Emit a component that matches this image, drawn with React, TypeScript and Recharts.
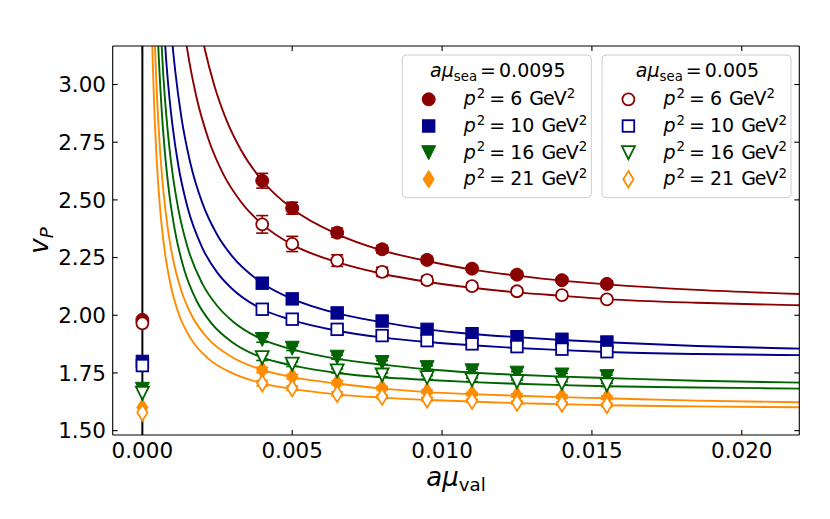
import React from 'react';
import {
  ComposedChart,
  Line,
  Scatter,
  XAxis,
  YAxis,
  ReferenceLine,
  ErrorBar,
  Legend,
  Label,
} from 'recharts';

// ---------------- data ----------------
const A_MU_VAL = [0.004, 0.005, 0.0065, 0.008, 0.0095, 0.011, 0.0125, 0.014, 0.0155];

// a mu_sea = 0.0095 (filled markers)
const P6_SEA0095 = [2.583, 2.464, 2.358, 2.286, 2.24, 2.202, 2.176, 2.152, 2.136];
const P10_SEA0095 = [2.139, 2.071, 2.01, 1.975, 1.939, 1.92, 1.907, 1.896, 1.884];
const P16_SEA0095 = [1.895, 1.857, 1.818, 1.795, 1.773, 1.759, 1.749, 1.741, 1.734];
const P21_SEA0095 = [1.763, 1.734, 1.708, 1.684, 1.669, 1.659, 1.653, 1.647, 1.643];
// a mu_sea = 0.005 (open markers)
const P6_SEA005 = [2.394, 2.309, 2.237, 2.188, 2.152, 2.126, 2.104, 2.087, 2.069];
const P10_SEA005 = [2.026, 1.983, 1.939, 1.912, 1.89, 1.876, 1.864, 1.853, 1.842];
const P16_SEA005 = [1.816, 1.788, 1.759, 1.741, 1.73, 1.72, 1.712, 1.705, 1.698];
const P21_SEA005 = [1.705, 1.684, 1.659, 1.647, 1.636, 1.629, 1.621, 1.617, 1.611];

// error bars
const ERR_P6_SEA0095 = [0.032, 0.026, 0.02, 0.017, 0.015, 0.013, 0.013, 0.012, 0.012];
const ERR_P6_SEA005 = [0.038, 0.033, 0.025, 0.02, 0.017, 0.015, 0.014, 0.013, 0.013];
const ERR_SMALL = [0.012, 0.01, 0.009, 0.008, 0.008, 0.007, 0.007, 0.007, 0.007];

// chiral-limit values at a mu_val = 0 (p^2 = 6, 10, 16, 21)
const CHIRAL_SEA0095 = [1.98, 1.8, 1.679, 1.6];
const CHIRAL_SEA005 = [1.965, 1.782, 1.662, 1.578];

// fit curves: [a mu_val, v_P]
const FIT_P6_SEA0095 = [
  [0.0019, 3.269], [0.0021, 3.144], [0.0024, 2.996], [0.0028, 2.848], [0.0033, 2.714],
  [0.004, 2.583], [0.005, 2.462], [0.0065, 2.352], [0.008, 2.281], [0.0095, 2.235],
  [0.011, 2.198], [0.0125, 2.172], [0.014, 2.15], [0.0155, 2.134], [0.0185, 2.11], [0.022, 2.092],
];
const FIT_P6_SEA005 = [
  [0.0013, 3.337], [0.0015, 3.15], [0.0018, 2.948], [0.0022, 2.765], [0.0027, 2.612],
  [0.0033, 2.49], [0.004, 2.394], [0.005, 2.306], [0.0065, 2.23], [0.008, 2.18],
  [0.0095, 2.145], [0.011, 2.119], [0.0125, 2.099], [0.014, 2.084], [0.0155, 2.07],
  [0.0185, 2.054], [0.022, 2.043],
];
const FIT_P10_SEA0095 = [
  [0.0009, 3.335], [0.001, 3.181], [0.0011, 3.055], [0.0013, 2.86], [0.0016, 2.66],
  [0.002, 2.487], [0.0025, 2.348], [0.003, 2.255], [0.004, 2.139], [0.005, 2.071],
  [0.0065, 2.008], [0.008, 1.97], [0.0095, 1.939], [0.011, 1.919], [0.0125, 1.905],
  [0.014, 1.893], [0.0155, 1.883], [0.0185, 1.867], [0.022, 1.855],
];
const FIT_P10_SEA005 = [
  [0.0007, 3.288], [0.0008, 3.096], [0.0009, 2.947], [0.001, 2.828], [0.0012, 2.649],
  [0.0015, 2.471], [0.002, 2.292], [0.0025, 2.185], [0.003, 2.114], [0.004, 2.026],
  [0.005, 1.979], [0.0065, 1.933], [0.008, 1.904], [0.0095, 1.884], [0.011, 1.87],
  [0.0125, 1.858], [0.014, 1.849], [0.0155, 1.841], [0.0185, 1.832], [0.022, 1.827],
];
const FIT_P16_SEA0095 = [
  [0.0006, 3.268], [0.0007, 3.037], [0.0008, 2.864], [0.0009, 2.729], [0.001, 2.621],
  [0.0012, 2.46], [0.0015, 2.298], [0.002, 2.137], [0.0025, 2.04], [0.003, 1.975],
  [0.004, 1.895], [0.005, 1.852], [0.0065, 1.811], [0.008, 1.786], [0.0095, 1.766],
  [0.011, 1.752], [0.0125, 1.742], [0.014, 1.734], [0.0155, 1.728], [0.0185, 1.716], [0.022, 1.708],
];
const FIT_P16_SEA005 = [
  [0.0005, 3.261], [0.00055, 3.11], [0.00065, 2.878], [0.00075, 2.708], [0.0009, 2.524],
  [0.0011, 2.357], [0.0014, 2.196], [0.0018, 2.065], [0.0023, 1.966], [0.003, 1.883],
  [0.004, 1.816], [0.005, 1.783], [0.0065, 1.75], [0.008, 1.731], [0.0095, 1.72],
  [0.011, 1.71], [0.0125, 1.703], [0.014, 1.697], [0.0155, 1.692], [0.0185, 1.687], [0.022, 1.682],
];
const FIT_P21_SEA0095 = [
  [0.0004, 3.245], [0.00045, 3.062], [0.0005, 2.916], [0.0006, 2.697], [0.0007, 2.54],
  [0.00085, 2.374], [0.001, 2.258], [0.0013, 2.106], [0.0017, 1.986], [0.0022, 1.898],
  [0.003, 1.818], [0.004, 1.763], [0.005, 1.732], [0.0065, 1.704], [0.008, 1.682],
  [0.0095, 1.667], [0.011, 1.658], [0.0125, 1.651], [0.014, 1.645], [0.0155, 1.64],
  [0.0185, 1.63], [0.022, 1.623],
];
const FIT_P21_SEA005 = [
  [0.0003, 3.327], [0.00035, 3.076], [0.0004, 2.888], [0.00048, 2.669], [0.0006, 2.45],
  [0.00075, 2.274], [0.00095, 2.127], [0.0012, 2.011], [0.0016, 1.902], [0.0022, 1.812],
  [0.003, 1.749], [0.004, 1.705], [0.005, 1.681], [0.0065, 1.657], [0.008, 1.643],
  [0.0095, 1.633], [0.011, 1.626], [0.0125, 1.619], [0.014, 1.615], [0.0155, 1.61],
  [0.0185, 1.605], [0.022, 1.601],
];

const P2_LABELS = ['6', '10', '16', '21'];
const SEA_LABELS = ['0.0095', '0.005'];
const X_TICKS = [0, 0.005, 0.01, 0.015, 0.02];
const Y_TICKS = [1.5, 1.75, 2.0, 2.25, 2.5, 2.75, 3.0];
const X_DOMAIN = [-0.00099, 0.02192];
const Y_DOMAIN = [1.481, 3.167];

// ---------------- styling / layout ----------------
const W = 830;
const H = 519;
const PLOT_LEFT = 112.7;
const PLOT_RIGHT = 799.3;
const PLOT_TOP = 46;
const PLOT_BOTTOM = 435;
const FONT = '"DejaVu Sans", Verdana, sans-serif';
const RED = '#8b0000';
const BLUE = '#00008b';
const GREEN = '#006400';
const ORANGE = '#ff8c00';
const COLORS = [RED, BLUE, GREEN, ORANGE];
const KINDS = ['circle', 'square', 'tri', 'diamond'];
const TICK_LEN = 5;

const toPoints = (ys: number[], errs?: number[]) =>
  A_MU_VAL.map((x, i) => ({ x, y: ys[i], err: errs ? errs[i] : 0 }));
const toCurve = (pairs: number[][]) => pairs.map(([x, y]) => ({ x, y }));

const SERIES_SEA0095 = [P6_SEA0095, P10_SEA0095, P16_SEA0095, P21_SEA0095];
const SERIES_SEA005 = [P6_SEA005, P10_SEA005, P16_SEA005, P21_SEA005];
const ERRS_SEA0095 = [ERR_P6_SEA0095, ERR_SMALL, ERR_SMALL, ERR_SMALL];
const ERRS_SEA005 = [ERR_P6_SEA005, ERR_SMALL, ERR_SMALL, ERR_SMALL];
const FITS_SEA0095 = [FIT_P6_SEA0095, FIT_P10_SEA0095, FIT_P16_SEA0095, FIT_P21_SEA0095];
const FITS_SEA005 = [FIT_P6_SEA005, FIT_P10_SEA005, FIT_P16_SEA005, FIT_P21_SEA005];

function markerEl(kind: string, cx: number, cy: number, color: string, filled: boolean, key?: string) {
  const fill = filled ? color : '#ffffff';
  const sw = filled ? 1 : 1.8;
  if (kind === 'circle') {
    const r = filled ? 6.5 : 6.0;
    return <circle key={key} cx={cx} cy={cy} r={r} fill={fill} stroke={color} strokeWidth={sw} />;
  }
  if (kind === 'square') {
    const h = filled ? 6.2 : 5.8;
    return (
      <rect key={key} x={cx - h} y={cy - h} width={2 * h} height={2 * h} fill={fill} stroke={color} strokeWidth={sw} />
    );
  }
  if (kind === 'tri') {
    const h = filled ? 7.0 : 6.5;
    const pts = `${cx - h},${cy - h} ${cx + h},${cy - h} ${cx},${cy + h}`;
    return <polygon key={key} points={pts} fill={fill} stroke={color} strokeWidth={sw} strokeLinejoin="miter" />;
  }
  const hh = filled ? 8.8 : 8.2;
  const hw = filled ? 5.6 : 5.1;
  const pts = `${cx},${cy - hh} ${cx + hw},${cy} ${cx},${cy + hh} ${cx - hw},${cy}`;
  return <polygon key={key} points={pts} fill={fill} stroke={color} strokeWidth={sw} />;
}

const makeShape = (kind: string, color: string, filled: boolean) => (props: any) => {
  const { cx, cy } = props;
  if (cx == null || cy == null || Number.isNaN(cx) || Number.isNaN(cy)) return <g />;
  return markerEl(kind, cx, cy, color, filled);
};

const XTickBottom = (props: any) => {
  const { x, payload } = props;
  return (
    <g>
      <line x1={x} x2={x} y1={PLOT_BOTTOM} y2={PLOT_BOTTOM - TICK_LEN} stroke="#000" strokeWidth={1.1} />
      <text x={x} y={458} textAnchor="middle" fontFamily={FONT} fontSize={21.5} fill="#000">
        {Number(payload.value).toFixed(3)}
      </text>
    </g>
  );
};
const XTickTop = (props: any) => {
  const { x } = props;
  return <line x1={x} x2={x} y1={PLOT_TOP} y2={PLOT_TOP + TICK_LEN} stroke="#000" strokeWidth={1.1} />;
};
const YTickLeft = (props: any) => {
  const { y, payload } = props;
  return (
    <g>
      <line x1={PLOT_LEFT} x2={PLOT_LEFT + TICK_LEN} y1={y} y2={y} stroke="#000" strokeWidth={1.1} />
      <text x={106} y={y + 7.7} textAnchor="end" fontFamily={FONT} fontSize={21.5} fill="#000">
        {Number(payload.value).toFixed(2)}
      </text>
    </g>
  );
};
const YTickRight = (props: any) => {
  const { y } = props;
  return <line x1={PLOT_RIGHT} x2={PLOT_RIGHT - TICK_LEN} y1={y} y2={y} stroke="#000" strokeWidth={1.1} />;
};

const XLabel = () => (
  <text x={(PLOT_LEFT + PLOT_RIGHT) / 2} y={486} textAnchor="middle" fontFamily={FONT} fontSize={26} fill="#000">
    <tspan fontStyle="italic">aμ</tspan>
    <tspan fontSize={18.2} dy={5}>val</tspan>
  </text>
);
const YLabel = () => {
  const cx = 48;
  const cy = (PLOT_TOP + PLOT_BOTTOM) / 2;
  return (
    <text
      x={cx}
      y={cy}
      transform={`rotate(-90, ${cx}, ${cy})`}
      textAnchor="middle"
      fontFamily={FONT}
      fontSize={26}
      fill="#000"
    >
      <tspan fontStyle="italic">v</tspan>
      <tspan fontStyle="italic" fontSize={18.2} dy={5}>P</tspan>
    </text>
  );
};

const LEGEND_FS = 19;
const SUP_FS = 13.3;
const LegendBox = ({ x0, sea, filled }: { x0: number; sea: string; filled: boolean }) => {
  const w = 189;
  const rows = [99.3, 126, 152.7, 179.3];
  return (
    <g>
      <rect x={x0} y={55} width={w} height={142.7} rx={4} ry={4} fill="#ffffff" fillOpacity={0.8} stroke="#cccccc" strokeWidth={1} />
      <text x={x0 + w / 2 + 1} y={76.7} textAnchor="middle" fontFamily={FONT} fontSize={LEGEND_FS} fill="#000">
        <tspan fontStyle="italic">aμ</tspan>
        <tspan fontSize={SUP_FS} dy={4}>sea</tspan>
        <tspan dy={-4} dx={3}>=</tspan>
        <tspan dx={3}>{sea}</tspan>
      </text>
      {rows.map((ry, i) => (
        <g key={i}>
          {markerEl(KINDS[i], x0 + 26.4, ry, COLORS[i], filled)}
          <text x={x0 + 61.5} y={ry + 6} fontFamily={FONT} fontSize={LEGEND_FS} fill="#000">
            <tspan fontStyle="italic">p</tspan>
            <tspan fontSize={SUP_FS} dy={-7.5} dx={1}>2</tspan>
            <tspan dy={7.5} dx={4}>=</tspan>
            <tspan dx={5}>{P2_LABELS[i]}</tspan>
            <tspan dx={7} letterSpacing={-1}>GeV</tspan>
            <tspan fontSize={SUP_FS} dy={-7.5} dx={1}>2</tspan>
          </text>
        </g>
      ))}
    </g>
  );
};

const renderLegend = () => (
  <svg width={W} height={H} style={{ position: 'absolute', left: 0, top: 0, pointerEvents: 'none' }}>
    <LegendBox x0={402.3} sea={SEA_LABELS[0]} filled={true} />
    <LegendBox x0={602} sea={SEA_LABELS[1]} filled={false} />
  </svg>
);

export default function App() {
  const fitsA = FITS_SEA0095.map(toCurve);
  const fitsB = FITS_SEA005.map(toCurve);
  const ptsA = SERIES_SEA0095.map((s, i) => toPoints(s, ERRS_SEA0095[i]));
  const ptsB = SERIES_SEA005.map((s, i) => toPoints(s, ERRS_SEA005[i]));
  const chiralA = CHIRAL_SEA0095.map((y) => [{ x: 0, y }]);
  const chiralB = CHIRAL_SEA005.map((y) => [{ x: 0, y }]);

  return (
    <div style={{ position: 'absolute', left: 0, top: 0, width: W, height: H, background: '#fff' }}>
      <ComposedChart
        width={W}
        height={H}
        margin={{ top: PLOT_TOP - 1, right: W - PLOT_RIGHT - 1, bottom: 0, left: 0 }}
      >
        <XAxis
          xAxisId="b"
          dataKey="x"
          type="number"
          domain={X_DOMAIN}
          ticks={X_TICKS}
          interval={0}
          allowDataOverflow
          height={H - PLOT_BOTTOM}
          axisLine={{ stroke: '#000', strokeWidth: 1.1 }}
          tickLine={false}
          tick={<XTickBottom />}
        >
          <Label content={<XLabel />} />
        </XAxis>
        <XAxis
          xAxisId="t"
          orientation="top"
          dataKey="x"
          type="number"
          domain={X_DOMAIN}
          ticks={X_TICKS}
          interval={0}
          allowDataOverflow
          height={1}
          axisLine={{ stroke: '#000', strokeWidth: 1.1 }}
          tickLine={false}
          tick={<XTickTop />}
        />
        <YAxis
          yAxisId="l"
          dataKey="y"
          type="number"
          domain={Y_DOMAIN}
          ticks={Y_TICKS}
          interval={0}
          allowDataOverflow
          width={PLOT_LEFT}
          axisLine={{ stroke: '#000', strokeWidth: 1.1 }}
          tickLine={false}
          tick={<YTickLeft />}
        >
          <Label content={<YLabel />} />
        </YAxis>
        <YAxis
          yAxisId="r"
          orientation="right"
          dataKey="y"
          type="number"
          domain={Y_DOMAIN}
          ticks={Y_TICKS}
          interval={0}
          allowDataOverflow
          width={1}
          axisLine={{ stroke: '#000', strokeWidth: 1.1 }}
          tickLine={false}
          tick={<YTickRight />}
        />
        <Legend
          layout="horizontal"
          verticalAlign="middle"
          align="center"
          content={renderLegend}
          wrapperStyle={{ left: 0, top: 0, width: W, height: H, pointerEvents: 'none' }}
        />
        <ReferenceLine xAxisId="b" yAxisId="l" x={0} stroke="#000" strokeWidth={2} />
        {fitsA.map((d, i) => (
          <Line
            key={`fa${i}`}
            xAxisId="b"
            yAxisId="l"
            data={d}
            dataKey="y"
            type="monotone"
            dot={false}
            activeDot={false}
            stroke={COLORS[i]}
            strokeWidth={1.9}
            isAnimationActive={false}
          />
        ))}
        {fitsB.map((d, i) => (
          <Line
            key={`fb${i}`}
            xAxisId="b"
            yAxisId="l"
            data={d}
            dataKey="y"
            type="monotone"
            dot={false}
            activeDot={false}
            stroke={COLORS[i]}
            strokeWidth={1.9}
            isAnimationActive={false}
          />
        ))}
        {ptsA.map((d, i) => (
          <Scatter
            key={`sa${i}`}
            xAxisId="b"
            yAxisId="l"
            data={d}
            dataKey="y"
            shape={makeShape(KINDS[i], COLORS[i], true)}
            isAnimationActive={false}
          >
            <ErrorBar dataKey="err" direction="y" width={6} stroke={COLORS[i]} strokeWidth={1.6} />
          </Scatter>
        ))}
        {ptsB.map((d, i) => (
          <Scatter
            key={`sb${i}`}
            xAxisId="b"
            yAxisId="l"
            data={d}
            dataKey="y"
            shape={makeShape(KINDS[i], COLORS[i], false)}
            isAnimationActive={false}
          >
            <ErrorBar dataKey="err" direction="y" width={6} stroke={COLORS[i]} strokeWidth={1.6} />
          </Scatter>
        ))}
        {chiralA.map((d, i) => (
          <Scatter
            key={`ca${i}`}
            xAxisId="b"
            yAxisId="l"
            data={d}
            dataKey="y"
            shape={makeShape(KINDS[i], COLORS[i], true)}
            isAnimationActive={false}
          />
        ))}
        {chiralB.map((d, i) => (
          <Scatter
            key={`cb${i}`}
            xAxisId="b"
            yAxisId="l"
            data={d}
            dataKey="y"
            shape={makeShape(KINDS[i], COLORS[i], false)}
            isAnimationActive={false}
          />
        ))}
      </ComposedChart>
    </div>
  );
}
